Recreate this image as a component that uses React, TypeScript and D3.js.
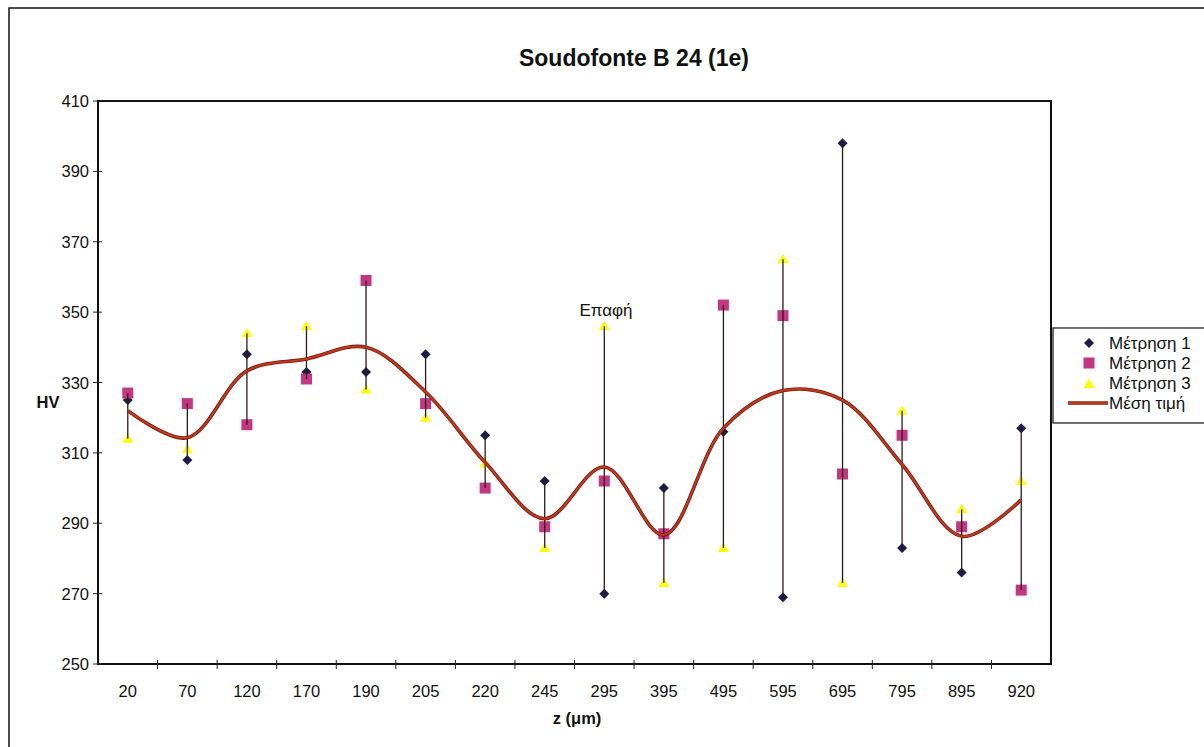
import React from "react";
import * as d3 from "d3";

const categories = ["20", "70", "120", "170", "190", "205", "220", "245", "295", "395", "495", "595", "695", "795", "895", "920"];
const metrisi1 = [325, 308, 338, 333, 333, 338, 315, 302, 270, 300, 316, 269, 398, 283, 276, 317];
const metrisi2 = [327, 324, 318, 331, 359, 324, 300, 289, 302, 287, 352, 349, 304, 315, 289, 271];
const metrisi3 = [314, 311, 344, 346, 328, 320, 307, 283, 346, 273, 283, 365, 273, 322, 294, 302];
const mesiTimi = [322, 314.3, 333.3, 336.7, 340, 327.3, 307.3, 291.3, 306, 286.7, 317, 327.7, 325, 306.7, 286.3, 296.7];
const yTicks = [250, 270, 290, 310, 330, 350, 370, 390, 410];

const W = 1204;
const H = 747;
const plot = { left: 98, right: 1051, top: 101, bottom: 664 };

export default function App() {
  const x = d3.scaleBand<string>().domain(categories).range([plot.left, plot.right]).padding(0);
  const y = d3.scaleLinear().domain([250, 410]).range([plot.bottom, plot.top]);
  const cx = (c: string) => (x(c) as number) + x.bandwidth() / 2;

  const meanLine = d3
    .line<number>()
    .x((_, i) => cx(categories[i]))
    .y((d) => y(d))
    .curve(d3.curveCatmullRom.alpha(0.5));

  const diamond = "M0,-5L5,0L0,5L-5,0Z";
  const triangle = "M0,-5.5L5.5,4L-5.5,4Z";

  const font = "Arial, 'Liberation Sans', sans-serif";
  const m2Color = "#c4367f";
  const m1Color = "#1c1c4a";
  const m3Color = "#ffff00";
  const lineColor = "#c0391d";

  const bandBoundaries = categories.slice(1).map((c) => x(c) as number);

  return (
    <svg
      width={W}
      height={H}
      style={{ position: "absolute", left: 0, top: 0, background: "#fff" }}
      fontFamily={font}
    >
      <rect x={0} y={0} width={W} height={H} fill="#fff" />
      {/* outer frame */}
      <rect x={9} y={8} width={1400} height={900} fill="none" stroke="#111" strokeWidth={1.5} />

      {/* title */}
      <text x={634} y={66} textAnchor="middle" fontSize={23} fontWeight="bold" fill="#111">
        Soudofonte B 24 (1e)
      </text>

      {/* plot frame */}
      <rect
        x={plot.left}
        y={plot.top}
        width={plot.right - plot.left}
        height={plot.bottom - plot.top}
        fill="#fff"
        stroke="#111"
        strokeWidth={2}
      />

      {/* y ticks */}
      {yTicks.map((t) => (
        <g key={t}>
          <line x1={plot.left - 5} x2={plot.left + 4} y1={y(t)} y2={y(t)} stroke="#222" strokeWidth={1} />
          <text x={89} y={y(t) + 6} textAnchor="end" fontSize={16.5} fill="#111">
            {t}
          </text>
        </g>
      ))}

      {/* x ticks */}
      {bandBoundaries.map((b, i) => (
        <line key={i} x1={b} x2={b} y1={plot.bottom - 4} y2={plot.bottom + 5} stroke="#222" strokeWidth={1} />
      ))}
      {categories.map((c) => (
        <text key={c} x={cx(c)} y={697} textAnchor="middle" fontSize={16.5} fill="#111">
          {c}
        </text>
      ))}

      {/* axis titles */}
      <text x={48} y={408} textAnchor="middle" fontSize={16.5} fontWeight="bold" fill="#111">
        HV
      </text>
      <text x={577} y={724} textAnchor="middle" fontSize={16.5} fontWeight="bold" fill="#111">
        z (μm)
      </text>

      {/* markers */}
      {categories.map((c, i) => (
        <g key={"m" + c}>
          <path d={diamond} transform={`translate(${cx(c)},${y(metrisi1[i])})`} fill={m1Color} />
          <rect x={cx(c) - 5.5} y={y(metrisi2[i]) - 5.5} width={11} height={11} fill={m2Color} />
          <path d={triangle} transform={`translate(${cx(c)},${y(metrisi3[i])})`} fill={m3Color} />
        </g>
      ))}

      {/* high-low lines */}
      {categories.map((c, i) => {
        const vals = [metrisi1[i], metrisi2[i], metrisi3[i]];
        return (
          <line
            key={"hl" + c}
            x1={cx(c)}
            x2={cx(c)}
            y1={y(d3.max(vals) as number)}
            y2={y(d3.min(vals) as number)}
            stroke="#2a1a1a"
            strokeWidth={1.3}
          />
        );
      })}

      {/* mean line */}
      <path d={meanLine(mesiTimi) as string} fill="none" stroke="#7a1a10" strokeWidth={3.6} />
      <path d={meanLine(mesiTimi) as string} fill="none" stroke={lineColor} strokeWidth={2} />

      {/* annotation */}
      <text x={606} y={316} textAnchor="middle" fontSize={17} fill="#111">
        Επαφή
      </text>

      {/* legend */}
      <rect x={1053} y={328} width={200} height={95} fill="#fff" stroke="#111" strokeWidth={1.2} />
      <path d={diamond} transform={`translate(1089,343)`} fill={m1Color} />
      <text x={1109} y={349} fontSize={17} fill="#111">Μέτρηση 1</text>
      <rect x={1083.5} y={357.5} width={11} height={11} fill={m2Color} />
      <text x={1109} y={369} fontSize={17} fill="#111">Μέτρηση 2</text>
      <path d={triangle} transform={`translate(1089,384)`} fill={m3Color} />
      <text x={1109} y={389} fontSize={17} fill="#111">Μέτρηση 3</text>
      <line x1={1068} x2={1108} y1={403} y2={403} stroke="#7a1a10" strokeWidth={3.6} />
      <line x1={1068} x2={1108} y1={403} y2={403} stroke={lineColor} strokeWidth={2} />
      <text x={1109} y={409} fontSize={17} fill="#111">Μέση τιμή</text>
    </svg>
  );
}
